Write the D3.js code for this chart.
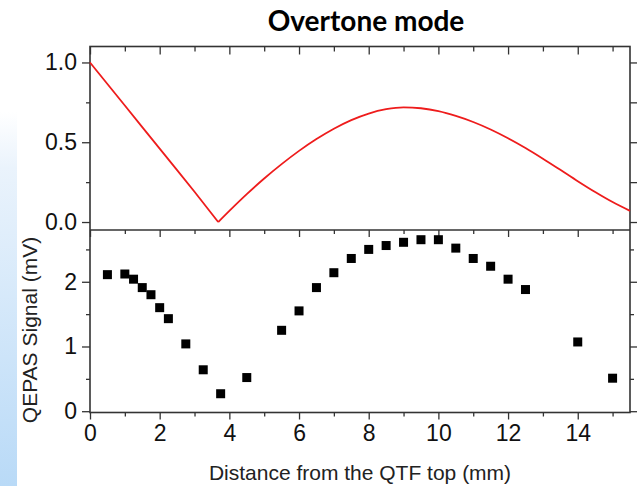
<!DOCTYPE html>
<html>
<head>
<meta charset="utf-8">
<script src="https://d3js.org/d3.v7.min.js"></script>
<style>
  body { margin: 0; background: #fff; }
  svg { display: block; }
  .tick text { font-family: "Liberation Sans", Arial, sans-serif; fill: #111; }
  .tick line { stroke: #333; stroke-width: 1.3; }
</style>
</head>
<body>
<div id="chart"></div>
<script>
// simulated vibration profile (top panel), arbitrary units
var profileX = [0, 0.5, 1, 1.5, 2, 2.5, 3, 3.5, 3.68, 4, 4.5, 5, 5.5, 6, 6.5, 7, 7.5, 8, 8.5, 9, 9.5, 10, 10.5, 11, 11.5, 12, 12.5, 13, 13.5, 14, 14.5, 15, 15.5];
var profileY = [1.0, 0.865, 0.73, 0.595, 0.46, 0.325, 0.19, 0.05, 0.0, 0.07, 0.175, 0.273, 0.363, 0.446, 0.52, 0.585, 0.639, 0.68, 0.707, 0.719, 0.713, 0.695, 0.665, 0.627, 0.58, 0.525, 0.464, 0.397, 0.327, 0.256, 0.188, 0.125, 0.07];

// measured QEPAS signal vs laser position (bottom panel)
var posMm = [0.5, 1, 1.25, 1.5, 1.75, 2, 2.25, 2.75, 3.25, 3.75, 4.5, 5.5, 6, 6.5, 7, 7.5, 8, 8.5, 9, 9.5, 10, 10.5, 11, 11.5, 12, 12.5, 14, 15];
var signalMv = [2.11, 2.12, 2.04, 1.91, 1.80, 1.60, 1.43, 1.04, 0.64, 0.27, 0.52, 1.25, 1.55, 1.91, 2.14, 2.36, 2.50, 2.56, 2.61, 2.65, 2.65, 2.52, 2.36, 2.24, 2.04, 1.88, 1.07, 0.51];

var xTicks = [0, 2, 4, 6, 8, 10, 12, 14];
var xMinor = [1, 3, 5, 7, 9, 11, 13, 15];
var topTicks = [0, 0.5, 1.0];
var topMinor = [0.25, 0.75];
var botTicks = [0, 1, 2];
var botMinor = [0.5, 1.5, 2.5];

var W = 637, H = 486;
var L = 90, R = 630, T = 46.5, M = 230, B = 412.5;

var svg = d3.select("#chart").append("svg")
    .attr("width", W).attr("height", H);

// pale blue strip at the left edge
var grad = svg.append("defs").append("linearGradient")
    .attr("id", "strip").attr("x1", 0).attr("y1", 0).attr("x2", 0).attr("y2", 1);
grad.append("stop").attr("offset", "0%").attr("stop-color", "#ffffff");
grad.append("stop").attr("offset", "15%").attr("stop-color", "#eaf3fc");
grad.append("stop").attr("offset", "100%").attr("stop-color", "#b9daf7");
svg.append("rect").attr("x", 0).attr("y", 112).attr("width", 17).attr("height", H - 112)
    .attr("fill", "url(#strip)");

var x = d3.scaleLinear().domain([0, 15.5]).range([L, R]);
var yTop = d3.scaleLinear().domain([-0.05, 1.1]).range([M, T]);
var yBot = d3.scaleLinear().domain([-0.02, 2.8]).range([B, M]);

function tickAxis(g, axis) {
  g.call(axis);
  g.select(".domain").remove();
  return g;
}

// top panel ticks
tickAxis(svg.append("g").attr("transform", "translate(" + L + ",0)"),
  d3.axisLeft(yTop).tickValues(topTicks).tickSize(8).tickPadding(5).tickFormat(d3.format(".1f")))
  .selectAll("text").style("font-size", "23px");
tickAxis(svg.append("g").attr("transform", "translate(" + L + ",0)"),
  d3.axisLeft(yTop).tickValues(topMinor).tickSize(4).tickFormat(""));
tickAxis(svg.append("g").attr("transform", "translate(" + R + ",0)"),
  d3.axisLeft(yTop).tickValues(topTicks.concat(topMinor)).tickSize(-7).tickFormat(""));
tickAxis(svg.append("g").attr("transform", "translate(0," + T + ")"),
  d3.axisTop(x).tickValues(xTicks).tickSize(-8).tickFormat(""));
tickAxis(svg.append("g").attr("transform", "translate(0," + T + ")"),
  d3.axisTop(x).tickValues(xMinor).tickSize(-5).tickFormat(""));

// bottom panel ticks
tickAxis(svg.append("g").attr("transform", "translate(" + L + ",0)"),
  d3.axisLeft(yBot).tickValues(botTicks).tickSize(8).tickPadding(5).tickFormat(d3.format("d")))
  .selectAll("text").style("font-size", "23px");
tickAxis(svg.append("g").attr("transform", "translate(" + L + ",0)"),
  d3.axisLeft(yBot).tickValues(botMinor).tickSize(4).tickFormat(""));
tickAxis(svg.append("g").attr("transform", "translate(" + R + ",0)"),
  d3.axisLeft(yBot).tickValues(botTicks).tickSize(-7).tickFormat(""));
tickAxis(svg.append("g").attr("transform", "translate(" + R + ",0)"),
  d3.axisLeft(yBot).tickValues(botMinor).tickSize(-4).tickFormat(""));
tickAxis(svg.append("g").attr("transform", "translate(0," + M + ")"),
  d3.axisTop(x).tickValues(xTicks).tickSize(-7).tickFormat(""));
tickAxis(svg.append("g").attr("transform", "translate(0," + M + ")"),
  d3.axisTop(x).tickValues(xMinor).tickSize(-4).tickFormat(""));
tickAxis(svg.append("g").attr("transform", "translate(0," + B + ")"),
  d3.axisBottom(x).tickValues(xTicks).tickSize(7).tickPadding(5).tickFormat(d3.format("d")))
  .selectAll("text").style("font-size", "23px");
tickAxis(svg.append("g").attr("transform", "translate(0," + B + ")"),
  d3.axisBottom(x).tickValues(xMinor).tickSize(4).tickFormat(""));

// panel frames
svg.append("rect").attr("x", L).attr("y", T).attr("width", R - L).attr("height", B - T)
    .attr("fill", "none").attr("stroke", "#333").attr("stroke-width", 1.6);
svg.append("line").attr("x1", L).attr("x2", R).attr("y1", M).attr("y2", M)
    .attr("stroke", "#333").attr("stroke-width", 1.6);

// profile curve: straight drop to the node, smooth hump after it
var profile = profileX.map(function(d, i) { return [d, profileY[i]]; });
var nodeIdx = profileY.indexOf(d3.min(profileY));
var lineLin = d3.line().x(function(d) { return x(d[0]); }).y(function(d) { return yTop(d[1]); });
var lineSmooth = d3.line().curve(d3.curveMonotoneX)
    .x(function(d) { return x(d[0]); }).y(function(d) { return yTop(d[1]); });
svg.append("path").datum(profile.slice(0, nodeIdx + 1))
    .attr("d", lineLin).attr("fill", "none").attr("stroke", "#ee1c1c").attr("stroke-width", 1.8);
svg.append("path").datum(profile.slice(nodeIdx))
    .attr("d", lineSmooth).attr("fill", "none").attr("stroke", "#ee1c1c").attr("stroke-width", 1.8);

// measured points
var sq = 9;
svg.selectAll(".pt").data(posMm).enter().append("rect")
    .attr("class", "pt")
    .attr("x", function(d) { return x(d) - sq / 2; })
    .attr("y", function(d, i) { return yBot(signalMv[i]) - sq / 2; })
    .attr("width", sq).attr("height", sq)
    .attr("fill", "#000");

// labels
svg.append("text").attr("x", 366).attr("y", 31).attr("text-anchor", "middle")
    .style("font-family", "Lato, 'Open Sans', sans-serif").style("font-weight", "bold")
    .style("font-size", "28px").text("Overtone mode");
svg.append("text").attr("x", 360).attr("y", 480).attr("text-anchor", "middle")
    .style("font-family", "'Liberation Sans', Arial, sans-serif").style("font-size", "21px")
    .attr("fill", "#222").text("Distance from the QTF top (mm)");
svg.append("text").attr("transform", "translate(37,330) rotate(-90)").attr("text-anchor", "middle")
    .style("font-family", "'Liberation Sans', Arial, sans-serif").style("font-size", "21px")
    .attr("fill", "#222").text("QEPAS Signal (mV)");
</script>
</body>
</html>
